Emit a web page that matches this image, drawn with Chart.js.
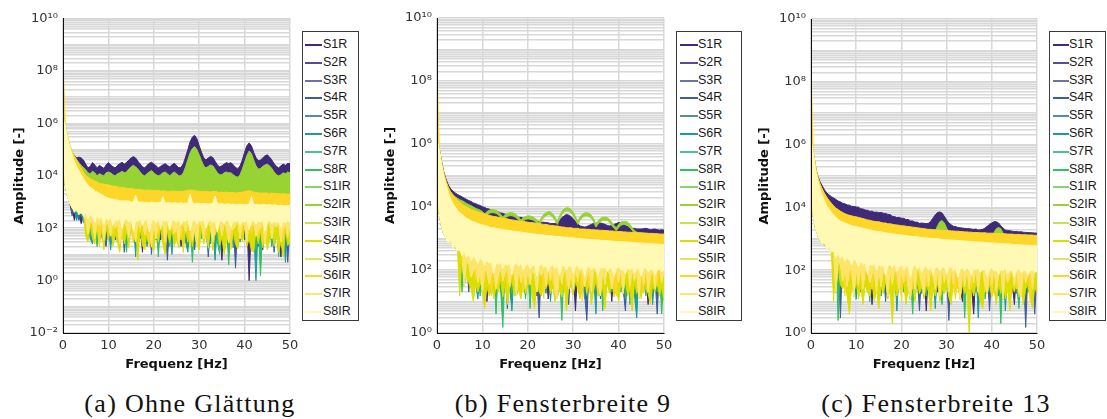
<!DOCTYPE html>
<html>
<head>
<meta charset="utf-8">
<script src="https://cdn.jsdelivr.net/npm/chart.js@4.4.1/dist/chart.umd.min.js"></script>
<style>
  html, body { margin: 0; padding: 0; background: #fff; }
  body { width: 1107px; height: 419px; position: relative; overflow: hidden; }
  canvas { position: absolute; top: 0; }
  .legend { position: absolute; background: #fff; border: 1px solid #3a3a3a; box-sizing: border-box;
            font: 12.5px "Liberation Sans", Arial, sans-serif; color: #1a1a1a; }
  .legend .item { position: absolute; left: 0; height: 14px; line-height: 14px; white-space: nowrap; }
  .legend .swatch { position: absolute; top: 7px; height: 2px; }
  .legend .name { position: absolute; top: 0; }
  .caption { position: absolute; top: 391px; font: 26px "Liberation Serif", "Times New Roman", serif;
             line-height: 26px; letter-spacing: 1.3px; color: #111; white-space: nowrap; transform: translateX(-50%); }
</style>
</head>
<body>
<canvas id="chartA" width="305" height="380" style="left:0px"></canvas>
<canvas id="chartB" width="305" height="380" style="left:374px"></canvas>
<canvas id="chartC" width="304" height="380" style="left:748px"></canvas>
<div id="legendA" class="legend"></div>
<div id="legendB" class="legend"></div>
<div id="legendC" class="legend"></div>
<div id="capA" class="caption"></div>
<div id="capB" class="caption"></div>
<div id="capC" class="caption"></div>
<script>
// ---------- categories, labels ----------
const SERIES = ['S1R','S2R','S3R','S4R','S5R','S6R','S7R','S8R',
                'S1IR','S2IR','S3IR','S4IR','S5IR','S6IR','S7IR','S8IR'];
const COLORS = ['#3f2a7a','#5a4a9c','#6b72aa','#3c5d9c','#4e90a2','#1d9a9a','#4cc09a','#30bf62',
                '#86d46a','#97d332','#c8df58','#dcde00','#e6e35e','#fdd628','#fde46a','#fff9b4'];
const CAPTIONS = ['(a) Ohne Glättung', '(b) Fensterbreite 9', '(c) Fensterbreite 13'];
const X_TITLE = 'Frequenz [Hz]';
const Y_TITLE = 'Amplitude [-]';
const Y_DECADES_A = [-2,-1,0,1,2,3,4,5,6,7,8,9];
const Y_DECADES_BC = [0,1,2,3,4,5,6,7,8,9];
const Y_MULTIPLIERS = [1,2,3,4,5,6,7,8,9];
const Y_LABELS = { '0.01': '10⁻²', '1': '10⁰', '100': '10²', '10000': '10⁴',
                   '1000000': '10⁶', '100000000': '10⁸', '10000000000': '10¹⁰' };

// frequency bins [Hz]
const FREQ = [
  0,0.5,1,1.5,2,2.5,3,3.5,4,4.5,
  5,5.5,6,6.5,7,7.5,8,8.5,9,9.5,
  10,10.5,11,11.5,12,12.5,13,13.5,14,14.5,
  15,15.5,16,16.5,17,17.5,18,18.5,19,19.5,
  20,20.5,21,21.5,22,22.5,23,23.5,24,24.5,
  25,25.5,26,26.5,27,27.5,28,28.5,29,29.5,
  30,30.5,31,31.5,32,32.5,33,33.5,34,34.5,
  35,35.5,36,36.5,37,37.5,38,38.5,39,39.5,
  40,40.5,41,41.5,42,42.5,43,43.5,44,44.5,
  45,45.5,46,46.5,47,47.5,48,48.5,49,49.5,
  50
];

// ---------- (a) Ohne Glättung: band maxima / minima per bin ----------
const A_S1R_HI = [
  1.6e6,7.1e5,2.5e5,1.3e5,7.9e4,6.0e4,4.8e4,5.2e4,4.8e4,4.0e4,
  2.8e4,2.0e4,2.3e4,3.2e4,2.6e4,2.0e4,2.5e4,2.2e4,1.9e4,2.6e4,
  3.2e4,2.6e4,2.2e4,2.0e4,2.5e4,2.9e4,3.3e4,2.8e4,3.2e4,4.0e4,
  4.8e4,5.4e4,4.8e4,3.6e4,2.8e4,2.2e4,2.0e4,2.5e4,3.0e4,3.3e4,
  2.8e4,2.4e4,2.0e4,2.3e4,2.6e4,2.9e4,2.5e4,2.2e4,2.6e4,3.0e4,
  2.5e4,2.0e4,2.1e4,2.9e4,5.2e4,1.0e5,2.0e5,3.0e5,3.5e5,2.6e5,
  1.4e5,7.9e4,4.8e4,4.0e4,4.8e4,5.5e4,5.0e4,3.6e4,2.6e4,2.2e4,
  2.4e4,2.8e4,3.2e4,2.9e4,3.2e4,2.6e4,2.1e4,1.8e4,2.4e4,4.0e4,
  7.9e4,1.4e5,1.8e5,1.4e5,7.9e4,5.0e4,3.8e4,4.0e4,4.8e4,5.8e4,
  6.3e4,5.2e4,4.0e4,2.9e4,2.3e4,2.0e4,2.4e4,2.8e4,2.5e4,3.0e4,
  2.9e4
];
const A_S2IR_HI = [
  1.8e6,7.9e5,2.8e5,1.4e5,8.3e4,5.8e4,4.2e4,3.2e4,2.5e4,2.1e4,
  1.7e4,1.3e4,1.2e4,1.5e4,1.3e4,1.0e4,1.2e4,1.1e4,1.0e4,1.3e4,
  1.4e4,1.3e4,1.1e4,1.0e4,1.2e4,1.3e4,1.5e4,1.3e4,1.4e4,1.8e4,
  2.2e4,2.5e4,2.2e4,1.8e4,1.4e4,1.1e4,1.0e4,1.2e4,1.4e4,1.6e4,
  1.3e4,1.1e4,1.0e4,1.1e4,1.3e4,1.4e4,1.2e4,1.0e4,1.2e4,1.4e4,
  1.2e4,1.0e4,1.0e4,1.3e4,2.2e4,4.2e4,7.6e4,1.1e5,1.3e5,1.0e5,
  6.3e4,3.8e4,2.4e4,2.0e4,2.3e4,2.6e4,2.4e4,1.8e4,1.3e4,1.1e4,
  1.1e4,1.3e4,1.4e4,1.3e4,1.3e4,1.1e4,9.5e3,8.9e3,1.1e4,1.8e4,
  3.3e4,6.0e4,8.9e4,7.1e4,4.0e4,2.4e4,1.8e4,1.9e4,2.3e4,2.6e4,
  2.8e4,2.4e4,1.9e4,1.4e4,1.1e4,1.0e4,1.1e4,1.3e4,1.2e4,1.4e4,
  1.3e4
];
const A_S6IR_HI = [
  3.2e8,8.9e5,3.2e5,1.6e5,8.9e4,5.6e4,4.0e4,2.8e4,2.0e4,1.4e4,
  1.05e4,8900,7600,7100,6300,5800,5200,5000,4800,4600,
  4500,4300,4000,4000,3800,3600,3500,3500,3300,3300,
  3200,3200,3000,3000,3000,2900,2800,2900,2800,2800,
  2800,2700,2800,2600,2700,2600,2600,2500,2600,2600,
  2500,2600,2500,2600,2700,2800,2900,2800,2800,2600,
  2600,2500,2600,2500,2500,2400,2500,2500,2400,2300,
  2400,2300,2400,2300,2300,2300,2200,2300,2300,2400,
  2500,2600,2700,2600,2400,2300,2200,2200,2200,2200,
  2200,2100,2200,2100,2100,2100,2000,2100,2000,2000,
  2000
];
const A_S8IR_HI = [
  1.6e6,7.9e5,2.6e5,1.3e5,6.3e4,3.5e4,2.2e4,1.6e4,1.1e4,7900,
  5600,4500,3600,3200,2600,2400,2100,1900,1700,1500,
  1400,1300,1300,1200,1200,1100,1100,1100,1100,1100,
  1000,1000,1800,1000,980,1000,950,980,930,1000,
  950,930,980,910,1600,930,910,950,890,930,
  910,890,930,870,910,890,2000,910,870,890,
  890,850,890,870,830,870,850,1700,850,830,
  850,810,830,850,790,830,810,790,830,790,
  810,790,830,1600,790,780,790,760,790,780,
  760,790,740,780,760,720,760,740,720,740,
  720
];
const A_S8IR_LO = [
  1e5,5000,1600,890,630,400,560,320,450,280,
  400,220,350,250,160,320,220,280,140,250,
  200,260,130,220,190,250,100,200,240,170,
  220,79,200,180,240,130,200,220,71,190,
  210,160,230,110,200,180,220,89,190,210,
  160,220,130,200,180,230,79,190,210,140,
  200,180,220,100,190,200,160,210,71,180,
  200,150,210,180,110,200,170,210,130,190,
  170,200,89,180,200,140,190,170,200,79,
  180,200,150,190,160,180,110,180,160,190,
  170
];
const A_S1R_LO = [
  1e5,5000,1600,900,630,200,450,400,150,350,
  320,150,100,220,90,160,250,60,140,200,
  110,180,70,150,30,130,200,90,160,120,
  180,80,140,40,170,12,150,110,190,70,
  140,200,90,35,160,120,80,180,100,150,
  90,170,20,130,200,110,150,60,170,120,
  190,100,160,45,140,180,90,150,40,130,
  6,160,110,190,30,140,120,170,50,150,
  110,180,1,140,90,160,120,40,15,170,
  130,60,150,100,180,35,8,140,110,160,
  120
];
const A_S4R_LO = [
  1e5,5000,1600,900,300,500,450,200,380,350,
  200,40,170,120,210,50,150,180,30,20,
  160,120,190,35,140,100,170,12,130,200,
  90,150,45,180,60,140,200,25,120,10,
  170,100,150,190,30,130,6,160,110,50,
  150,200,40,120,170,20,140,100,15,160,
  120,180,50,150,8,130,170,30,140,110,
  180,40,150,25,120,170,3,140,60,160,
  35,130,190,50,150,110,20,170,120,40,
  160,100,140,12,180,30,130,60,150,5,
  120
];
const A_S6R_LO = [
  1e5,5000,1600,900,630,500,200,400,380,160,
  180,140,40,25,160,110,200,50,30,170,
  120,15,150,100,180,30,130,170,45,140,
  110,190,8,150,40,130,170,20,140,100,
  160,35,130,190,50,25,150,120,10,170,
  60,140,110,180,30,12,150,100,130,40,
  160,120,45,170,140,25,110,6,150,130,
  40,170,120,55,150,18,190,90,30,110,
  170,50,130,160,100,1,150,120,35,140,
  110,180,20,130,160,45,140,110,5,150,
  100
];
const A_S8R_LO = [
  1e5,5000,1600,900,630,500,450,400,380,350,
  150,200,50,170,130,20,160,45,140,180,
  35,150,80,190,120,25,160,110,12,140,
  170,40,130,18,150,110,180,30,140,55,
  120,160,8,140,40,170,110,20,150,130,
  35,160,120,60,190,25,140,5,110,170,
  130,40,160,110,15,150,120,170,30,10,
  150,50,140,4,170,35,130,20,160,100,
  140,30,170,110,45,15,150,1.5,120,40,
  160,120,25,150,110,8,140,45,170,30,
  130
];
const A_S4IR_LO = [
  1e5,5000,1600,900,630,500,450,400,380,350,
  50,30,140,40,25,120,20,90,15,110,
  35,130,20,60,30,12,110,25,80,18,
  120,28,90,6,100,22,15,80,120,20,
  14,90,30,110,25,10,85,28,100,20,
  40,18,110,12,90,30,120,20,80,35,
  15,100,25,80,18,110,14,70,95,22,
  45,10,30,100,18,75,25,16,90,30,
  110,20,40,14,12,90,25,80,18,100,
  15,35,95,20,75,12,30,8,85,22,
  30
];
const A_S6IR_LO = [
  1e5,5000,1600,900,630,500,450,400,380,350,
  250,180,220,130,200,150,25,190,120,210,
  160,200,60,180,140,220,40,170,200,130,
  190,30,150,210,70,180,160,50,20,200,
  140,190,60,170,210,45,160,130,190,80,
  200,120,35,140,90,190,18,160,210,60,
  170,110,200,40,180,120,190,55,100,170,
  130,200,70,180,15,160,120,190,45,110,
  180,150,200,60,170,140,40,190,22,160,
  130,200,50,110,180,140,190,35,160,130,
  170
];
const A_BASE_LO = [
  1e5,5000,1600,900,630,500,450,400,380,350,
  200,60,180,150,40,170,120,200,35,160,
  140,50,190,100,160,25,90,180,110,45,
  170,120,30,160,100,190,55,110,170,20,
  150,40,180,90,140,30,170,80,130,60,
  110,25,150,170,70,140,180,35,100,20,
  160,130,40,120,170,110,30,100,140,180,
  50,160,100,28,90,90,130,170,40,150,
  140,30,170,120,150,50,80,100,160,25,
  130,170,40,140,110,160,30,90,150,45,
  140
];

// ---------- (b) Fensterbreite 9 ----------
const B_S1R_HI = [
  1.4e6,7.1e5,2.8e5,1.3e5,7.6e4,5.0e4,3.8e4,3.2e4,2.8e4,2.5e4,
  2.3e4,2.1e4,1.9e4,1.75e4,1.6e4,1.5e4,1.35e4,1.28e4,1.17e4,1.12e4,
  1.02e4,9700,8900,8600,7900,7700,7100,7000,6500,6300,
  5900,5800,5500,5300,5000,4900,4700,4700,4400,4300,
  4000,3900,3700,3700,3500,3500,3300,3300,3200,3150,
  3000,3000,3000,3200,3800,4600,5200,5800,5500,5000,
  4200,3500,2900,2500,2400,2300,2400,2600,2800,3000,
  3000,3200,3100,3000,2800,2600,2500,2600,2800,3000,
  3200,3100,2900,2600,2400,2200,2100,2100,2000,2000,
  2000,2050,2100,2000,1900,1950,2000,1900,1850,1900,
  1850
];
const B_S2IR_HI = [
  1.26e6,6.3e5,2.5e5,1.1e5,6.3e4,4.0e4,3.0e4,2.5e4,2.1e4,1.9e4,
  1.7e4,1.6e4,1.45e4,1.3e4,1.2e4,1.1e4,1.0e4,9100,8500,7900,
  7200,6000,7200,7900,8300,8300,7900,7100,5900,4800,
  5800,6300,6600,6600,6300,5600,4800,3800,4600,5000,
  5200,5200,5000,4500,3800,3200,4600,5800,6600,7100,
  6900,6000,4800,3500,5200,7200,8700,9500,9300,8300,
  6900,5000,3500,4800,5800,6500,6600,6300,5500,4200,
  2900,3600,4300,4700,4800,4600,4000,3300,2600,2200,
  2800,3300,3500,3500,3300,2800,2200,1800,1600,1500,
  1500,1500,1450,1450,1400,1400,1400,1400,1350,1350,
  1300
];
const B_S2IR_LO = [
  1.0e6,5.0e5,2.0e5,8.8e4,5.0e4,3.2e4,2.4e4,2.0e4,1.7e4,1.5e4,
  1.36e4,1.28e4,1.16e4,1.04e4,9600,8800,8000,7300,6800,6300,
  5800,4800,5800,6300,6600,6600,6300,5700,4700,3800,
  4600,5000,5300,5300,5000,4500,3800,3000,3700,4000,
  4200,4200,4000,3600,3000,2600,3700,4600,5300,5700,
  5500,4800,3800,2800,4200,5800,7000,7600,7400,6600,
  5500,4000,2800,3800,4600,5200,5300,5000,4400,3400,
  2300,2900,3400,3800,3800,3700,3200,2600,2100,1800,
  2200,2600,2800,2800,2600,2200,1800,1400,1300,1200,
  1200,1200,1160,1160,1100,1100,1100,1100,1080,1080,
  1040
];
const B_S6IR_HI = [
  2.8e8,6.6e5,2.6e5,1.2e5,6.6e4,4.2e4,3.0e4,2.4e4,2.0e4,1.66e4,
  1.45e4,1.26e4,1.12e4,1.02e4,9300,8500,7900,7400,6900,6600,
  6300,6000,5800,5500,5200,5000,4900,4700,4600,4400,
  4300,4200,4000,3900,3800,3700,3600,3500,3500,3400,
  3300,3200,3200,3100,3000,3000,2900,2800,2800,2700,
  2600,2600,2500,2500,2400,2300,2300,2200,2200,2200,
  2100,2100,2100,2000,2000,2000,1950,1950,1900,1900,
  1860,1860,1820,1820,1780,1780,1740,1740,1700,1700,
  1660,1660,1620,1620,1580,1580,1550,1550,1510,1510,
  1510,1480,1480,1450,1450,1450,1410,1410,1380,1380,
  1380
];
const B_S8IR_HI = [
  1.4e6,6.3e5,2.2e5,9.5e4,5.0e4,2.8e4,1.8e4,1.26e4,1.0e4,7900,
  6600,5800,5000,4400,4000,3600,3400,3200,3000,2800,
  2700,2600,2500,2300,2200,2200,2100,2000,2000,1900,
  1860,1820,1780,1740,1700,1660,1620,1580,1550,1510,
  1480,1450,1410,1380,1350,1320,1320,1290,1260,1230,
  1230,1200,1170,1150,1150,1120,1100,1100,1070,1050,
  1050,1020,1000,1000,980,950,950,930,930,910,
  890,890,870,870,850,850,830,830,810,810,
  790,790,780,780,760,760,740,740,720,720,
  710,710,690,690,680,680,660,660,650,650,
  630
];
const B_S8IR_LO = [
  1e5,6300,2500,1400,1000,710,890,500,630,400,
  450,280,400,250,320,200,280,220,160,240,
  200,140,210,160,190,79,170,150,180,110,
  160,140,170,71,150,160,130,170,100,140,
  160,110,140,150,63,130,160,120,140,89,
  130,150,110,140,71,130,140,100,130,140,
  79,130,140,100,130,63,120,130,100,130,
  110,71,130,110,130,89,120,110,63,110,
  130,100,110,76,120,100,130,79,110,110,
  63,110,120,89,100,110,71,100,110,89,
  100
];
const B_S1R_LO = [
  1e5,6300,2500,1400,1000,800,700,600,520,460,
  400,350,300,260,230,150,110,40,120,90,
  30,110,10,90,60,120,25,100,50,110,
  90,35,120,60,100,20,110,45,90,120,
  30,100,60,110,15,50,120,40,95,12,
  110,65,25,80,120,55,90,110,35,100,
  85,5,110,60,95,120,30,100,50,90,
  110,20,95,60,120,40,100,10,90,110,
  60,100,30,120,70,95,18,110,85,100,
  40,110,60,8,100,80,120,25,95,85,
  100
];
const B_S4R_LO = [
  1e5,6300,2500,1400,1000,800,700,600,520,460,
  400,350,300,260,20,180,120,40,140,100,
  30,120,60,100,15,110,50,90,120,25,
  100,6,90,35,110,80,120,20,95,70,
  110,30,100,85,50,3,120,40,100,60,
  15,110,70,120,25,95,80,100,8,110,
  70,100,35,120,85,18,2.5,110,40,95,
  60,120,12,100,55,110,30,90,45,100,
  85,110,25,5,100,75,120,35,95,80,
  110,20,100,70,40,120,65,4,100,30,
  90
];
const B_S6R_LO = [
  1e5,6300,2500,1400,1000,800,700,600,520,460,
  400,350,300,260,230,120,90,40,12,110,
  90,25,120,50,100,35,110,60,20,120,
  75,100,30,5,90,110,45,120,60,15,
  85,50,110,25,95,120,40,100,18,90,
  10,110,80,35,65,120,55,20,75,110,
  90,30,100,80,120,12,110,70,45,60,
  4,100,75,25,55,90,120,35,100,80,
  110,20,95,75,40,50,120,15,3,100,
  70,110,30,55,100,8,85,120,40,95,
  80
];
const B_S8R_LO = [
  1e5,6300,2500,1400,1000,800,700,600,520,460,
  400,20,300,260,230,140,35,120,80,15,
  60,100,30,120,70,110,4,95,25,1.5,
  110,40,100,18,120,75,30,50,110,12,
  100,6,90,35,120,55,20,80,110,40,
  95,25,60,100,75,2.5,110,30,95,50,
  18,80,100,35,110,90,15,100,45,120,
  85,25,110,5,95,40,120,20,100,60,
  30,65,95,12,120,8,90,40,100,25,
  70,110,15,100,35,120,65,20,75,4,
  90
];
const B_S4IR_LO = [
  1e5,6300,2500,1400,1000,800,700,600,520,460,
  15,300,200,60,40,25,10,35,20,40,
  25,6,30,15,45,12,30,20,50,14,
  40,8,25,50,15,35,22,12,45,18,
  30,55,14,6,40,20,15,35,25,45,
  18,30,10,50,22,14,40,5,25,35,
  16,45,25,12,30,55,18,35,8,22,
  45,15,30,25,6,40,18,50,14,30,
  10,35,22,45,15,25,5,40,18,30,
  12,50,25,18,8,35,20,45,15,30,
  10
];
const B_S6IR_LO = [
  1e5,6300,2500,1400,1000,800,700,600,520,460,
  400,350,300,260,230,180,140,50,160,110,
  130,40,100,140,15,120,160,35,130,110,
  150,25,140,120,50,130,110,150,20,140,
  120,45,150,90,30,110,140,12,120,100,
  150,35,130,110,60,80,120,25,100,130,
  110,140,40,130,10,120,150,30,140,110,
  130,20,150,110,45,140,100,130,30,15,
  140,110,35,100,150,25,120,140,50,130,
  100,18,140,120,40,150,110,30,100,140,
  120
];
const B_BASE_LO = [
  1e5,6300,2500,1400,1000,800,700,600,520,460,
  400,350,30,200,150,60,90,130,40,80,
  20,110,85,35,70,100,25,65,115,45,
  80,120,30,100,90,15,110,40,95,25,
  115,35,100,70,20,90,65,105,30,100,
  45,115,20,12,100,35,110,70,25,85,
  25,100,45,115,70,30,60,110,20,100,
  90,40,15,100,35,115,70,25,60,105,
  40,100,18,90,110,30,100,45,95,12,
  100,35,110,20,65,100,25,90,110,40,
  95
];

// ---------- (c) Fensterbreite 13 ----------
const C_S1R_HI = [
  1.26e6,5.6e5,2.0e5,1.0e5,6.6e4,4.8e4,3.6e4,2.9e4,2.5e4,2.2e4,
  2.0e4,1.8e4,1.6e4,1.5e4,1.35e4,1.3e4,1.2e4,1.18e4,1.08e4,1.07e4,
  1.03e4,1.02e4,9000,8900,8200,8100,7500,7600,7000,7100,
  6800,6900,6500,6400,6000,5900,5200,5100,4700,4800,
  4500,4500,4100,4100,3700,3700,3400,3400,3100,3200,
  3100,3050,3150,3600,4600,5800,6900,7200,6600,5200,
  4000,3200,2800,2500,2450,2300,2250,2200,2150,2100,
  2100,2050,2000,2050,1900,1950,2000,2200,2500,2900,
  3200,3500,3500,3200,2600,2200,1900,1850,1800,1750,
  1700,1720,1660,1680,1620,1600,1580,1570,1550,1530,
  1510
];
const C_S2IR_HI = [
  1.3e6,5.4e5,1.9e5,9.0e4,5.4e4,3.7e4,2.6e4,2.0e4,1.6e4,1.3e4,
  1.0e4,8500,7600,6800,6100,5600,5300,5000,4800,4500,
  4500,4300,4100,3900,3700,3600,3500,3300,3200,3100,
  3100,2900,2850,2850,2700,2700,2600,2500,2450,2400,
  2300,2300,2200,2200,2150,2100,2050,2000,1950,1900,
  1870,1820,1780,1780,1740,1740,2600,3500,3800,3200,
  2200,1620,1580,1580,1550,1550,1510,1510,1480,1480,
  1440,1440,1410,1410,1410,1380,1380,1380,1350,1350,
  1350,1600,2100,2300,2100,1500,1290,1260,1260,1260,
  1230,1230,1230,1200,1200,1200,1180,1180,1180,1150,
  1150
];
const C_S6IR_HI = [
  2.8e8,5.6e5,2.0e5,9.5e4,5.6e4,3.8e4,2.75e4,2.1e4,1.66e4,1.35e4,
  1.12e4,9500,8500,7600,6900,6300,5900,5600,5400,5100,
  5000,4800,4600,4400,4200,4000,3900,3700,3600,3500,
  3500,3300,3200,3200,3000,3000,2900,2800,2750,2700,
  2600,2600,2500,2450,2400,2350,2300,2240,2200,2140,
  2100,2040,2000,2000,1950,1950,1900,1900,1860,1860,
  1820,1820,1780,1780,1740,1740,1700,1700,1660,1660,
  1620,1620,1580,1580,1580,1550,1550,1550,1510,1510,
  1510,1480,1480,1480,1450,1450,1450,1410,1410,1410,
  1380,1380,1380,1350,1350,1350,1320,1320,1320,1290,
  1290
];
const C_S8IR_HI = [
  1.3e6,5.0e5,1.6e5,7.1e4,4.0e4,2.4e4,1.6e4,1.12e4,8900,7100,
  5800,4800,4200,3700,3400,3200,3000,2800,2600,2500,
  2450,2350,2250,2150,2050,2000,1900,1860,1780,1740,
  1700,1660,1580,1550,1510,1480,1450,1410,1380,1350,
  1320,1290,1260,1230,1200,1170,1170,1150,1120,1100,
  1070,1070,1050,1020,1020,1000,1000,980,950,950,
  930,930,910,890,890,870,870,850,850,830,
  830,810,810,790,790,780,780,760,760,740,
  740,720,720,710,710,690,690,680,680,660,
  660,650,650,630,630,620,620,620,600,600,
  600
];
const C_S8IR_LO = [
  1e5,5600,2200,1300,900,700,800,450,560,380,
  420,260,360,230,300,190,260,200,150,230,
  190,130,200,150,180,75,160,140,170,100,
  150,130,160,68,140,150,120,160,95,130,
  150,100,130,140,60,120,150,110,130,85,
  120,140,100,130,68,120,130,95,120,130,
  75,120,130,95,120,60,110,120,95,120,
  100,68,120,100,120,85,110,100,60,100,
  120,95,100,72,110,95,120,75,100,100,
  60,100,110,85,95,100,68,95,100,85,
  95
];
const C_S1R_LO = [
  1e5,5600,2200,1300,900,750,650,550,480,420,
  370,320,280,240,210,150,40,120,80,110,
  30,60,110,25,100,70,120,8,90,110,
  35,100,60,120,20,95,55,110,30,100,
  65,110,18,50,120,30,100,85,25,110,
  90,5,100,40,115,80,20,60,110,35,
  100,70,25,55,90,110,30,10,95,65,
  110,30,4,100,40,120,60,15,80,105,
  35,110,90,20,100,50,120,25,95,40,
  8,100,45,110,25,95,85,30,70,100,
  90
];
const C_S4R_LO = [
  1e5,5600,2200,1300,900,750,650,550,480,420,
  370,320,280,3,210,140,40,90,130,25,
  110,60,20,120,80,35,65,115,15,90,
  120,30,100,10,85,110,40,95,25,120,
  55,100,20,110,70,35,120,65,5,100,
  30,110,60,18,120,75,40,55,90,25,
  70,2.5,100,40,115,60,20,80,110,35,
  100,25,120,65,30,110,55,15,80,5,
  95,40,110,60,20,85,120,30,55,100,
  25,115,65,35,110,1.5,90,40,100,4,
  85
];
const C_S6R_LO = [
  1e5,5600,2200,1300,900,750,650,550,480,420,
  370,320,280,240,210,40,130,25,100,120,
  12,95,30,110,85,20,60,100,35,75,
  115,15,100,40,120,25,95,110,5,90,
  100,30,120,20,95,60,110,35,100,18,
  120,25,90,40,70,6,100,30,120,65,
  35,110,20,100,60,120,30,95,15,110,
  55,100,25,115,3,90,40,70,120,20,
  100,35,110,15,95,120,5,90,30,110,
  65,18,85,120,40,95,25,70,100,30,
  105
];
const C_S8R_LO = [
  1e5,5600,2200,1300,900,750,650,550,480,420,
  370,320,2.5,240,210,40,90,20,75,100,
  120,30,95,15,110,85,10,100,35,115,
  25,110,65,40,120,18,95,55,105,30,
  110,20,100,35,60,4,115,25,100,40,
  95,15,80,105,30,100,110,20,8,95,
  115,25,90,40,80,120,18,105,3,90,
  35,75,115,20,100,40,95,12,70,100,
  30,120,15,100,2,90,40,80,25,60,
  115,35,6,100,30,110,20,65,105,40,
  100
];
const C_S4IR_LO = [
  1e5,5600,2200,1300,900,750,650,550,480,420,
  10,200,140,35,25,40,15,4,30,20,
  45,12,30,8,35,20,15,40,10,25,
  6,30,18,45,12,25,2,35,15,30,
  20,40,8,25,14,35,10,45,18,30,
  12,35,20,5,30,15,40,10,25,18,
  35,14,8,40,20,30,12,35,18,25,
  1,30,15,40,20,10,6,30,18,35,
  14,25,8,35,18,45,12,25,5,30,
  20,40,14,30,8,25,35,12,6,30,
  18
];
const C_S6IR_LO = [
  1e5,5600,2200,1300,900,750,650,550,480,420,
  370,320,280,240,210,15,160,45,150,110,
  140,30,150,100,50,160,110,25,120,150,
  100,40,150,110,20,120,90,150,35,110,
  10,140,45,150,100,25,110,140,55,90,
  130,30,150,120,40,100,130,20,110,140,
  50,150,100,30,12,140,110,45,120,100,
  140,25,150,110,55,140,100,20,130,110,
  15,140,40,150,100,30,110,140,50,120,
  100,25,130,150,45,120,140,10,130,150,
  120
];
const C_BASE_LO = [
  1e5,5600,2200,1300,900,750,650,550,480,420,
  370,20,180,150,45,100,30,110,95,15,
  105,35,115,25,100,90,40,75,95,20,
  110,30,100,70,15,95,35,105,80,25,
  90,40,115,30,12,100,25,110,90,35,
  18,105,30,115,90,25,100,15,110,40,
  95,20,115,35,105,65,12,100,30,110,
  25,100,40,115,20,95,110,30,18,100,
  35,110,20,70,105,12,95,40,75,100,
  30,110,20,15,100,40,75,115,25,105,
  90
];

// ---------- per-series band table [minima, maxima] ----------
function bandTable(p) {
  return {
    S1R: [p.s1rLo, p.s1rHi],  S2R: [p.baseLo, p.paleHi], S3R: [p.baseLo, p.paleHi],
    S4R: [p.s4rLo, p.paleHi], S5R: [p.baseLo, p.paleHi], S6R: [p.s6rLo, p.paleHi],
    S7R: [p.baseLo, p.paleHi], S8R: [p.s8rLo, p.paleHi],
    S1IR: [p.baseLo, p.paleHi], S2IR: [p.s2irLo, p.s2irHi], S3IR: [p.baseLo, p.paleHi],
    S4IR: [p.s4irLo, p.paleHi], S5IR: [p.baseLo, p.paleHi], S6IR: [p.s6irLo, p.s6irHi],
    S7IR: [p.baseLo, p.paleHi], S8IR: [p.paleLo, p.paleHi]
  };
}
const BANDS = [
  bandTable({ s1rLo: A_S1R_LO, s1rHi: A_S1R_HI, baseLo: A_BASE_LO, paleHi: A_S8IR_HI, paleLo: A_S8IR_LO,
              s4rLo: A_S4R_LO, s6rLo: A_S6R_LO, s8rLo: A_S8R_LO, s2irLo: A_BASE_LO, s2irHi: A_S2IR_HI,
              s4irLo: A_S4IR_LO, s6irLo: A_S6IR_LO, s6irHi: A_S6IR_HI }),
  bandTable({ s1rLo: B_S1R_LO, s1rHi: B_S1R_HI, baseLo: B_BASE_LO, paleHi: B_S8IR_HI, paleLo: B_S8IR_LO,
              s4rLo: B_S4R_LO, s6rLo: B_S6R_LO, s8rLo: B_S8R_LO, s2irLo: B_S2IR_LO, s2irHi: B_S2IR_HI,
              s4irLo: B_S4IR_LO, s6irLo: B_S6IR_LO, s6irHi: B_S6IR_HI }),
  bandTable({ s1rLo: C_S1R_LO, s1rHi: C_S1R_HI, baseLo: C_BASE_LO, paleHi: C_S8IR_HI, paleLo: C_S8IR_LO,
              s4rLo: C_S4R_LO, s6rLo: C_S6R_LO, s8rLo: C_S8R_LO, s2irLo: C_BASE_LO, s2irHi: C_S2IR_HI,
              s4irLo: C_S4IR_LO, s6irLo: C_S6IR_LO, s6irHi: C_S6IR_HI })
];

// ---------- layout ----------
const PANELS = [
  { canvas: 'chartA', legend: 'legendA', caption: 'capA', yMin: 0.01, decades: Y_DECADES_A,
    top: 18.6, yTitlePad: 11.7, capCenter: 190,
    box: { left: 302, top: 31, width: 57, height: 290, swatchLeft: 2, swatchWidth: 17, textLeft: 20 } },
  { canvas: 'chartB', legend: 'legendB', caption: 'capB', yMin: 1, decades: Y_DECADES_BC,
    top: 18, yTitlePad: 9, capCenter: 563,
    box: { left: 676, top: 31, width: 66, height: 290, swatchLeft: 3, swatchWidth: 18, textLeft: 21 } },
  { canvas: 'chartC', legend: 'legendC', caption: 'capC', yMin: 1, decades: Y_DECADES_BC,
    top: 19, yTitlePad: 9, capCenter: 936,
    box: { left: 1049, top: 31, width: 57, height: 290, swatchLeft: 3, swatchWidth: 16, textLeft: 19 } }
];
const LEGEND_FIRST_ROW = 5;
const LEGEND_ROW_STEP = 17.8;

const AXIS_FONT = { family: 'DejaVu Sans', size: 13 };
const TITLE_FONT = { family: 'DejaVu Sans', size: 13, weight: 'bold' };
const GRID = { color: '#d8d8d8', lineWidth: 1.5, drawTicks: false };

function yTickValues(decades) {
  const vals = [];
  decades.forEach(d => Y_MULTIPLIERS.forEach(m => vals.push(m * Math.pow(10, d))));
  vals.push(1e10);
  return vals;
}

function drawPanel(panel, bands) {
  const datasets = [];
  // the last series ends up painted on top, so list them from S8IR back to S1R
  for (let s = SERIES.length - 1; s >= 0; s--) {
    const name = SERIES[s];
    const [lo, hi] = bands[name];
    const color = COLORS[s];
    datasets.push({
      label: name,
      data: FREQ.map((f, i) => ({ x: f, y: hi[i] })),
      borderColor: color, backgroundColor: color, borderWidth: 1,
      borderJoinStyle: 'bevel', pointRadius: 0, fill: '+1'
    });
    datasets.push({
      label: name + ' min',
      data: FREQ.map((f, i) => ({ x: f, y: lo[i] })),
      borderColor: color, backgroundColor: color, borderWidth: 1,
      borderJoinStyle: 'bevel', pointRadius: 0, fill: false
    });
  }
  const ticks = yTickValues(panel.decades);

  new Chart(document.getElementById(panel.canvas), {
    type: 'line',
    data: { datasets },
    options: {
      responsive: false, animation: false, events: [], devicePixelRatio: 1,
      layout: { padding: { left: 0, right: 15, top: panel.top, bottom: 0 } },
      plugins: { legend: { display: false }, tooltip: { enabled: false } },
      elements: { line: { tension: 0 }, point: { radius: 0 } },
      scales: {
        x: {
          type: 'linear', min: 0, max: 50,
          ticks: { stepSize: 10, padding: 5, color: '#333', font: AXIS_FONT, maxRotation: 0 },
          grid: GRID,
          border: { display: true, color: '#111', width: 1, z: 1 },
          title: { display: true, text: X_TITLE, color: '#111', font: TITLE_FONT, padding: { top: 0, bottom: 7.2 } },
          afterFit: s => { s.height = 47; }
        },
        y: {
          type: 'logarithmic', min: panel.yMin, max: 1e10,
          afterBuildTicks: s => { s.ticks = ticks.map(v => ({ value: v })); },
          ticks: { autoSkip: false, padding: 5, color: '#333', font: AXIS_FONT,
                   callback: v => Y_LABELS[String(v)] || '' },
          grid: GRID,
          border: { display: true, color: '#111', width: 1, z: 1 },
          title: { display: true, text: Y_TITLE, color: '#111', font: TITLE_FONT, padding: { top: panel.yTitlePad, bottom: 0 } },
          afterFit: s => { s.width = 63; }
        }
      }
    }
  });
}

function drawLegend(panel) {
  const el = document.getElementById(panel.legend);
  const b = panel.box;
  Object.assign(el.style, { left: b.left + 'px', top: b.top + 'px', width: b.width + 'px', height: b.height + 'px' });
  SERIES.forEach((name, s) => {
    const row = document.createElement('div');
    row.className = 'item';
    row.style.top = Math.round(LEGEND_FIRST_ROW + s * LEGEND_ROW_STEP) + 'px';
    const sw = document.createElement('span');
    sw.className = 'swatch';
    sw.style.left = b.swatchLeft + 'px';
    sw.style.width = b.swatchWidth + 'px';
    sw.style.background = COLORS[s];
    const tx = document.createElement('span');
    tx.className = 'name';
    tx.style.left = b.textLeft + 'px';
    tx.textContent = name;
    row.appendChild(sw);
    row.appendChild(tx);
    el.appendChild(row);
  });
}

PANELS.forEach((panel, k) => {
  drawPanel(panel, BANDS[k]);
  drawLegend(panel);
  const cap = document.getElementById(panel.caption);
  cap.textContent = CAPTIONS[k];
  cap.style.left = panel.capCenter + 'px';
});
</script>
</body>
</html>
